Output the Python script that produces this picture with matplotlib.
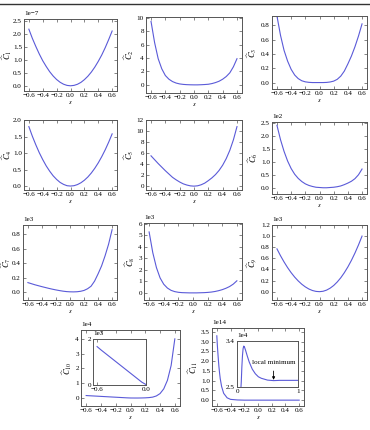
import matplotlib
matplotlib.use("Agg")
import matplotlib.pyplot as plt
from matplotlib.lines import Line2D
import numpy as np

plt.rcParams["font.family"] = "serif"
plt.rcParams["font.serif"] = ["Liberation Serif", "DejaVu Serif"]
plt.rcParams["mathtext.fontset"] = "stix"

W, H = 370, 430
LINE = "#5a5ad8"
SPINE = "#555555"

# shared abscissa for panels 1-10
s = [-0.6, -0.55, -0.5, -0.45, -0.4, -0.35, -0.3, -0.25, -0.2, -0.15, -0.1, -0.05,
     0.0, 0.05, 0.1, 0.15, 0.2, 0.25, 0.3, 0.35, 0.4, 0.45, 0.5, 0.55, 0.6]

c1 = [2.17, 1.82, 1.51, 1.22, 0.96, 0.74, 0.54, 0.375, 0.24, 0.135, 0.06, 0.015,
      0.0, 0.015, 0.058, 0.13, 0.235, 0.365, 0.525, 0.715, 0.935, 1.18, 1.46, 1.77, 2.1]
c2 = [9.45, 6.3, 3.9, 2.4, 1.4, 0.85, 0.5, 0.28, 0.15, 0.08, 0.04, 0.02,
      0.01, 0.01, 0.03, 0.06, 0.1, 0.2, 0.35, 0.55, 0.85, 1.25, 1.8, 2.7, 3.9]
c3 = [0.93, 0.66, 0.45, 0.30, 0.185, 0.105, 0.055, 0.025, 0.01, 0.003, 0.0, 0.0,
      0.0, 0.0, 0.002, 0.008, 0.02, 0.045, 0.09, 0.16, 0.26, 0.37, 0.5, 0.65, 0.82]
c4 = [1.8, 1.51, 1.25, 1.01, 0.8, 0.61, 0.45, 0.31, 0.2, 0.11, 0.05, 0.01,
      0.0, 0.01, 0.044, 0.099, 0.176, 0.274, 0.395, 0.538, 0.702, 0.889, 1.097, 1.328, 1.58]
c5 = [5.5, 4.8, 4.1, 3.45, 2.8, 2.2, 1.6, 1.15, 0.75, 0.42, 0.2, 0.05,
      0.0, 0.06, 0.25, 0.55, 1.0, 1.5, 2.1, 2.85, 3.8, 5.0, 6.5, 8.4, 10.8]
c6 = [2.4, 1.85, 1.4, 1.03, 0.74, 0.52, 0.36, 0.24, 0.15, 0.09, 0.05, 0.02,
      0.01, 0.0, 0.0, 0.01, 0.02, 0.04, 0.07, 0.12, 0.18, 0.25, 0.35, 0.5, 0.72]
c7 = [0.13, 0.115, 0.1, 0.087, 0.074, 0.062, 0.05, 0.039, 0.029, 0.02, 0.012, 0.006,
      0.003, 0.002, 0.004, 0.01, 0.022, 0.045, 0.08, 0.15, 0.25, 0.36, 0.5, 0.66, 0.86]
c8 = [5.3, 3.5, 2.2, 1.3, 0.75, 0.42, 0.22, 0.11, 0.05, 0.02, 0.01, 0.0,
      0.0, 0.0, 0.01, 0.02, 0.04, 0.07, 0.12, 0.19, 0.28, 0.4, 0.55, 0.76, 1.05]
c9 = [0.77, 0.647, 0.535, 0.433, 0.342, 0.262, 0.193, 0.134, 0.086, 0.048, 0.021, 0.005,
      0.0, 0.007, 0.028, 0.063, 0.111, 0.174, 0.25, 0.341, 0.445, 0.563, 0.695, 0.841, 1.0]
c10 = [0.167, 0.152, 0.138, 0.124, 0.11, 0.096, 0.082, 0.068, 0.054, 0.04, 0.026, 0.012,
       0.002, 0.0, 0.0, 0.004, 0.012, 0.028, 0.06, 0.14, 0.3, 0.62, 1.2, 2.2, 4.0]

s11 = [-0.6, -0.59, -0.58, -0.57, -0.56, -0.55, -0.53, -0.5, -0.45, -0.4, -0.3,
       -0.2, -0.1, 0.0, 0.1, 0.2, 0.3, 0.4, 0.5, 0.6]
c11 = [3.3, 2.7, 2.2, 1.75, 1.4, 1.1, 0.7, 0.35, 0.12, 0.04, 0.01,
       0.0, 0.0, 0.0, 0.0, 0.0, 0.0, 0.0, 0.0, 0.0]

# inset of panel 11
x_in = [0.05, 0.07, 0.08, 0.09, 0.1, 0.11, 0.12, 0.14, 0.17, 0.2, 0.25, 0.3, 0.35,
        0.4, 0.5, 0.6, 0.7, 0.8, 0.9, 1.0]
y_in = [2.2, 2.6, 2.9, 3.12, 3.25, 3.3, 3.29, 3.22, 3.1, 2.99, 2.85, 2.76, 2.7,
        2.67, 2.635, 2.625, 2.63, 2.63, 2.63, 2.63]

# name, values, scale power, y limits (scaled units), y ticks, box in pixels (x0, y0, x1, y1), ylabel right edge x (px)
panels = [
    ("1", c1, -7, (-0.2, 2.56), [0, 0.5, 1.0, 1.5, 2.0, 2.5], (24, 19, 117, 91), 14),
    ("2", c2, 0, (-1.2, 10.1), [0, 2, 4, 6, 8, 10], (146, 17, 242, 93), 136),
    ("3", c3, 0, (-0.09, 0.93), [0, 0.2, 0.4, 0.6, 0.8], (272, 16, 367, 89), 259),
    ("4", c4, 0, (-0.12, 2.0), [0, 0.5, 1.0, 1.5, 2.0], (24, 120, 117, 190), 14),
    ("5", c5, 0, (-0.7, 12), [0, 2, 4, 6, 8, 10, 12], (146, 120, 242, 190), 136),
    ("6", c6, 2, (-0.24, 2.53), [0, 0.5, 1.0, 1.5, 2.0, 2.5], (272, 122, 367, 194), 260),
    ("7", c7, 3, (-0.11, 0.925), [0, 0.2, 0.4, 0.6, 0.8], (23, 225, 117, 300), 13),
    ("8", c8, 3, (-0.62, 6.08), [0, 1, 2, 3, 4, 5, 6], (144, 223, 242, 300), 137),
    ("9", c9, 3, (-0.15, 1.2), [0, 0.2, 0.4, 0.6, 0.8, 1.0, 1.2], (272, 225, 367, 300), 260),
    ("10", c10, 4, (-0.54, 4.6), [0, 1, 2, 3, 4], (81, 330, 180, 406), 74),
    ("11", c11, 14, (-0.3, 3.7), [0, 0.5, 1.0, 1.5, 2.0, 2.5, 3.0, 3.5], (212, 328, 304, 406), 200),
]

FS = 5.1


def box(x0, y0, x1, y1):
    return [x0 / W, 1 - y1 / H, (x1 - x0) / W, (y1 - y0) / H]


def style(ax, power, yticks):
    ax.tick_params(direction="in", top=True, right=True, length=2, width=0.5,
                   labelsize=FS, pad=1.5, color=SPINE)
    for sp in ax.spines.values():
        sp.set_color(SPINE)
        sp.set_linewidth(0.7)
    ax.set_yticks([t * 10.0 ** power for t in yticks])
    if power != 0:
        ax.ticklabel_format(style="sci", axis="y", scilimits=(power, power))
        ax.yaxis.get_offset_text().set_fontsize(FS)


fig = plt.figure(figsize=(W / 100, H / 100), dpi=100)
fig.add_artist(Line2D([0, 1], [1 - 4 / H, 1 - 4 / H], color="#333333", lw=1.0))

for name, vals, power, ylim, yticks, px, ylab_x in panels:
    ax = fig.add_axes(box(*px))
    xs = s11 if name == "11" else s
    ax.plot(xs, np.array(vals) * 10.0 ** power, color=LINE, lw=0.8)
    ax.set_xlim(-0.67, 0.67)
    ax.set_ylim(ylim[0] * 10.0 ** power, ylim[1] * 10.0 ** power)
    ax.set_xticks([-0.6, -0.4, -0.2, 0.0, 0.2, 0.4, 0.6])
    style(ax, power, yticks)
    ax.set_xlabel(r"$s$", fontsize=FS, labelpad=1)
    ax.set_ylabel(r"$\widehat{C}_{%s}$" % name, fontsize=6)
    ax.yaxis.set_label_coords((ylab_x - px[0]) / (px[2] - px[0]), 0.5)

# inset of panel 10: left part of the same curve
ins10 = fig.add_axes(box(93, 339, 146, 385))
ins10.plot(s[:13], np.array(c10[:13]) * 1e4, color=LINE, lw=0.8)
ins10.set_xlim(-0.65, 0.0)
ins10.set_ylim(0, 2e3)
ins10.set_xticks([-0.6, 0.0])
style(ins10, 3, [0, 2])

# inset of panel 11
ins11 = fig.add_axes(box(237, 341, 298, 387))
ins11.plot(x_in, np.array(y_in) * 1e4, color=LINE, lw=0.8)
ins11.set_xlim(0, 1)
ins11.set_ylim(2.5e4, 3.4e4)
ins11.set_xticks([0, 1])
ins11.set_xticklabels(["0", "1"])
style(ins11, 4, [2.5, 3.4])
ins11.annotate("local minimum", xy=(0.6, 2.64e4), xytext=(0.6, 2.97e4),
               fontsize=FS, ha="center", va="center",
               arrowprops=dict(arrowstyle="-|>", color="black", lw=0.6,
                               mutation_scale=4, shrinkA=2, shrinkB=0))

fig.savefig("out.png", dpi=100)
